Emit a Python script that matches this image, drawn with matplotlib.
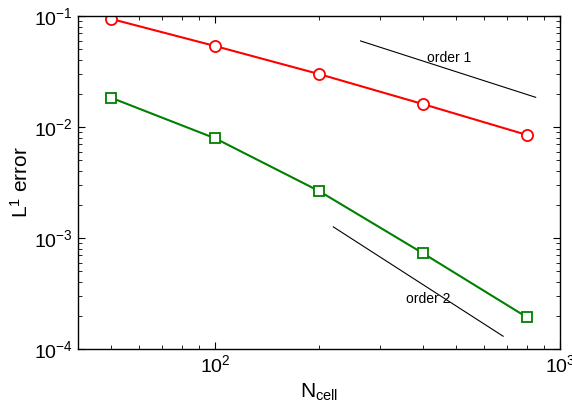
import matplotlib
matplotlib.use("Agg")
import matplotlib.pyplot as plt
import numpy as np

plt.rcParams['font.family'] = ['Liberation Sans', 'DejaVu Sans']
plt.rcParams['mathtext.fontset'] = 'custom'
plt.rcParams['mathtext.rm'] = 'Liberation Sans'
plt.rcParams['mathtext.it'] = 'Liberation Sans:italic'

# data
n_cell = [50, 100, 200, 400, 800]
err_red = [0.094, 0.0536, 0.030, 0.0161, 0.0085]
err_green = [0.0183, 0.0079, 0.00265, 0.00073, 0.000194]

# reference slopes
ref1_x = [264, 850]
ref1_y0 = 0.0596
ref2_x = [220, 684]
ref2_y0 = 0.00126

fig = plt.figure(figsize=(5.72, 4.05), dpi=100)
ax = fig.add_axes([78/572, 1 - 349/405, (560-78)/572, (349-16)/405])

ax.loglog(n_cell, err_red, 'r-o', lw=1.5, ms=8, mfc='white', mec='red', mew=1.3)
ax.loglog(n_cell, err_green, '-s', color='green', lw=1.5, ms=6.5, mfc='white', mec='green', mew=1.3)

x1 = np.array(ref1_x, dtype=float)
ax.loglog(x1, ref1_y0 * (x1 / x1[0]) ** -1, 'k-', lw=0.8)
x2 = np.array(ref2_x, dtype=float)
ax.loglog(x2, ref2_y0 * (x2 / x2[0]) ** -2, 'k-', lw=0.8)

ax.text(478, 0.042, 'order 1', fontsize=10, ha='center', va='center')
ax.text(414, 0.00028, 'order 2', fontsize=10, ha='center', va='center')

ax.set_xlim(40, 1000)
ax.set_ylim(1e-4, 1e-1)
ax.tick_params(which='both', direction='in', top=True, right=True, labelsize=14)
ax.tick_params(which='major', length=5, width=0.8)
ax.tick_params(which='minor', length=3, width=0.6)
ax.set_xlabel(r'N$_{\mathrm{cell}}$', fontsize=15, labelpad=4)
ax.set_ylabel(r'L$^{1}$ error', fontsize=15, labelpad=2)
for s in ax.spines.values():
    s.set_linewidth(1.0)

fig.savefig('out.png', dpi=100)
